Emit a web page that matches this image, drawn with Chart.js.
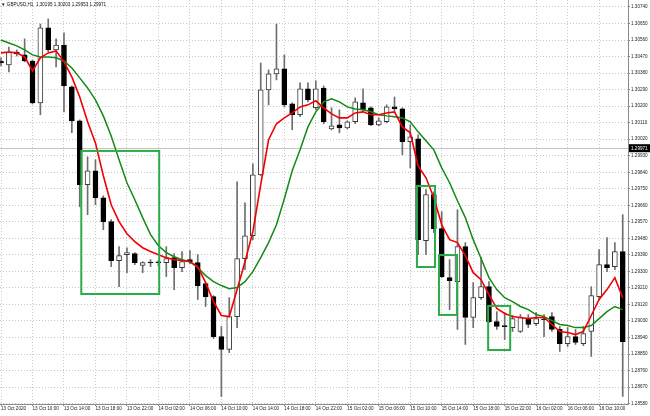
<!DOCTYPE html>
<html>
<head>
<meta charset="utf-8">
<script src="https://cdn.jsdelivr.net/npm/chart.js@4.4.1/dist/chart.umd.min.js"></script>
<style>
html, body { margin: 0; padding: 0; background: #fff; }
#wrap { width: 650px; height: 416px; }
</style>
</head>
<body>
<div id="wrap"><canvas id="chart" width="650" height="416"></canvas></div>
<script>
// ── Data (GBPUSD H1, one candle per hour) ─────────────
const opens = [
  1.30446, 1.30425, 1.30495, 1.30479, 1.30446, 1.30218, 1.30626, 1.30506, 1.30533, 1.30305,
  1.30120, 1.29772, 1.29848, 1.29701, 1.29571, 1.29359, 1.29391, 1.29397, 1.29332, 1.29348,
  1.29348, 1.29348, 1.29375, 1.29321, 1.29364, 1.29348, 1.29234, 1.29163, 1.28945, 1.28875,
  1.29054, 1.29370, 1.29494, 1.29826, 1.30289, 1.30376, 1.30403, 1.30212, 1.30153, 1.30294,
  1.30191, 1.30299, 1.30076, 1.30098, 1.30082, 1.30115, 1.30218, 1.30191, 1.30098, 1.30115,
  1.30196, 1.30185, 1.30006, 1.30022, 1.29467, 1.29718, 1.29533, 1.29266, 1.29244, 1.29435,
  1.29049, 1.29157, 1.29217, 1.29027, 1.29000, 1.28994, 1.28973, 1.29043, 1.29016, 1.29038,
  1.29054, 1.28984, 1.28907, 1.28945, 1.28907, 1.28973, 1.29163, 1.29337, 1.29326, 1.29408
];
const highs = [
  1.30463, 1.30522, 1.30506, 1.30566, 1.30452, 1.30647, 1.30675, 1.30566, 1.30599, 1.30310,
  1.30125, 1.29924, 1.29908, 1.29712, 1.29582, 1.29435, 1.29429, 1.29402, 1.29353, 1.29364,
  1.29359, 1.29435, 1.29397, 1.29408, 1.29413, 1.29391, 1.29239, 1.29168, 1.29000, 1.29157,
  1.29788, 1.29674, 1.29886, 1.30435, 1.30397, 1.30647, 1.30479, 1.30218, 1.30327, 1.30327,
  1.30338, 1.30310, 1.30191, 1.30180, 1.30120, 1.30245, 1.30294, 1.30196, 1.30136, 1.30207,
  1.30250, 1.30191, 1.30098, 1.30044, 1.29745, 1.29734, 1.29625, 1.29364, 1.29636, 1.29457,
  1.29239, 1.29375, 1.29244, 1.29081, 1.29076, 1.29060, 1.29065, 1.29065, 1.29076, 1.29065,
  1.29076, 1.29000, 1.28994, 1.28984, 1.29000, 1.29217, 1.29419, 1.29484, 1.29457, 1.29609
];
const lows = [
  1.30419, 1.30386, 1.30473, 1.30441, 1.30212, 1.30153, 1.30495, 1.30414, 1.30169, 1.30055,
  1.29652, 1.29609, 1.29663, 1.29527, 1.29326, 1.29217, 1.29293, 1.29337, 1.29293, 1.29326,
  1.29332, 1.29272, 1.29201, 1.29299, 1.29342, 1.29147, 1.29109, 1.28934, 1.28619, 1.28858,
  1.28994, 1.29310, 1.29473, 1.29821, 1.30207, 1.30343, 1.30196, 1.30071, 1.30142, 1.30223,
  1.30180, 1.30104, 1.30071, 1.30055, 1.30076, 1.30104, 1.30169, 1.30093, 1.30093, 1.30109,
  1.30174, 1.29935, 1.29864, 1.29391, 1.29391, 1.29511, 1.29266, 1.29092, 1.28984, 1.28902,
  1.28994, 1.29147, 1.29021, 1.28984, 1.28929, 1.28973, 1.28967, 1.28994, 1.29005, 1.28945,
  1.28973, 1.28864, 1.28891, 1.28902, 1.28896, 1.28837, 1.29147, 1.29299, 1.29310, 1.28619
];
const closes = [
  1.30435, 1.30495, 1.30484, 1.30446, 1.30218, 1.30626, 1.30506, 1.30533, 1.30310, 1.30120,
  1.29772, 1.29848, 1.29701, 1.29571, 1.29359, 1.29386, 1.29402, 1.29348, 1.29348, 1.29346,
  1.29347, 1.29370, 1.29321, 1.29353, 1.29353, 1.29223, 1.29163, 1.28945, 1.28875, 1.29054,
  1.29370, 1.29494, 1.29826, 1.30289, 1.30376, 1.30403, 1.30207, 1.30153, 1.30294, 1.30234,
  1.30294, 1.30115, 1.30093, 1.30082, 1.30115, 1.30223, 1.30180, 1.30098, 1.30120, 1.30196,
  1.30185, 1.30006, 1.30033, 1.29473, 1.29718, 1.29533, 1.29272, 1.29250, 1.29435, 1.29049,
  1.29157, 1.29217, 1.29027, 1.29000, 1.28999, 1.29043, 1.29049, 1.29011, 1.29043, 1.29037,
  1.28984, 1.28907, 1.28945, 1.28913, 1.28962, 1.29168, 1.29337, 1.29321, 1.29408, 1.28918
];
// fast MA (red) and slow MA (green)
const maFast = [
  1.30490, 1.30495, 1.30490, 1.30468, 1.30392, 1.30463, 1.30490, 1.30501, 1.30441, 1.30359,
  1.30250, 1.30115, 1.30000, 1.29821, 1.29663, 1.29571, 1.29505, 1.29462, 1.29429, 1.29408,
  1.29391, 1.29375, 1.29364, 1.29359, 1.29353, 1.29326, 1.29239, 1.29136, 1.29060, 1.29054,
  1.29201, 1.29353, 1.29516, 1.29772, 1.30017, 1.30104, 1.30136, 1.30163, 1.30196, 1.30207,
  1.30229, 1.30191, 1.30158, 1.30136, 1.30136, 1.30163, 1.30169, 1.30153, 1.30153, 1.30163,
  1.30169, 1.30087, 1.30055, 1.29875, 1.29810, 1.29701, 1.29554, 1.29473, 1.29457, 1.29386,
  1.29293, 1.29255, 1.29174, 1.29098, 1.29071, 1.29054, 1.29049, 1.29043, 1.29049, 1.29049,
  1.29011, 1.28973, 1.28967, 1.28956, 1.28973, 1.29060, 1.29147, 1.29201, 1.29266, 1.29157
];
const maSlow = [
  1.30560, 1.30544, 1.30528, 1.30506, 1.30479, 1.30468, 1.30468, 1.30463, 1.30446, 1.30408,
  1.30354, 1.30299, 1.30234, 1.30147, 1.30038, 1.29908, 1.29783, 1.29690, 1.29593, 1.29500,
  1.29440, 1.29402, 1.29380, 1.29364, 1.29353, 1.29321, 1.29277, 1.29244, 1.29223, 1.29206,
  1.29212, 1.29244, 1.29299, 1.29375, 1.29457, 1.29554, 1.29696, 1.29848, 1.29962, 1.30087,
  1.30169, 1.30223, 1.30240, 1.30223, 1.30196, 1.30185, 1.30180, 1.30169, 1.30153, 1.30147,
  1.30142, 1.30136, 1.30115, 1.30060, 1.30011, 1.29962, 1.29864, 1.29783, 1.29685, 1.29593,
  1.29473, 1.29370, 1.29266, 1.29201, 1.29157, 1.29136, 1.29109, 1.29092, 1.29065, 1.29054,
  1.29032, 1.29011, 1.29005, 1.28994, 1.28994, 1.29005, 1.29043, 1.29081, 1.29109, 1.29092
];

const timeTicks = [0, 4, 8, 12, 16, 20, 24, 28, 32, 36, 40, 44, 48, 52, 56, 60, 64, 68, 72, 76];
const timeLabels = [
  '13 Oct 2020', '13 Oct 10:00', '13 Oct 14:00', '13 Oct 18:00', '13 Oct 22:00',
  '14 Oct 02:00', '14 Oct 06:00', '14 Oct 10:00', '14 Oct 14:00', '14 Oct 18:00',
  '14 Oct 22:00', '15 Oct 02:00', '15 Oct 06:00', '15 Oct 10:00', '15 Oct 14:00',
  '15 Oct 18:00', '15 Oct 22:00', '16 Oct 02:00', '16 Oct 06:00', '16 Oct 10:00'
];
const priceTicks = [
  1.28580, 1.28670, 1.28760, 1.28850, 1.28940, 1.29030, 1.29120, 1.29210, 1.29300,
  1.29390, 1.29480, 1.29570, 1.29660, 1.29750, 1.29840, 1.29930, 1.30020, 1.30110,
  1.30200, 1.30290, 1.30380, 1.30470, 1.30560, 1.30650, 1.30740
];

// highlighted zones (candle index range, price range)
const zoneFrom   = [10.2, 52.85, 55.65, 61.9];
const zoneTo     = [20.1, 55.15, 57.95, 64.7];
const zoneTop    = [1.29956, 1.29765, 1.29389, 1.29112];
const zoneBottom = [1.29177, 1.29324, 1.29063, 1.28872];

const symbolText = '▼ GBPUSD,H1  1.30195 1.30203 1.29953 1.29971';
const bidPrice = 1.29971;

// ── Styles ─────────────────────────────────────────────
const FONT = { family: '"Liberation Sans", Arial, sans-serif', size: 4.6 };
const GRID = '#c8c8c8';
const AXIS = '#8a8a8a';

// ── Overlay plugin: bid line, zones, header, price tag ──
const overlay = {
    id: 'overlay',
    beforeDatasetsDraw(chart) {
        const { ctx, chartArea: a, scales: { y } } = chart;
        const py = Math.round(y.getPixelForValue(bidPrice)) + 0.5;
        ctx.save();
        ctx.strokeStyle = '#c4c4c4';
        ctx.lineWidth = 1;
        ctx.beginPath();
        ctx.moveTo(a.left, py);
        ctx.lineTo(a.right, py);
        ctx.stroke();
        ctx.restore();
    },
    afterDatasetsDraw(chart) {
        const { ctx, scales: { x, y } } = chart;
        ctx.save();
        ctx.strokeStyle = '#2aac48';
        ctx.lineWidth = 2;
        zoneFrom.forEach((f, k) => {
            const x0 = x.getPixelForValue(f), x1 = x.getPixelForValue(zoneTo[k]);
            const y0 = y.getPixelForValue(zoneTop[k]), y1 = y.getPixelForValue(zoneBottom[k]);
            ctx.strokeRect(x0, y0, x1 - x0, y1 - y0);
        });
        ctx.restore();
    },
    afterDraw(chart) {
        const { ctx, chartArea: a, scales: { y } } = chart;
        ctx.save();
        ctx.font = `${FONT.size}px ${FONT.family}`;
        ctx.textBaseline = 'middle';
        ctx.fillStyle = '#111';
        ctx.fillText(symbolText, 1, 4.5);

        const py = y.getPixelForValue(bidPrice);
        ctx.fillStyle = '#000';
        ctx.fillRect(a.right + 1, py - 4, 22, 8);
        ctx.fillStyle = '#fff';
        ctx.fillText(bidPrice.toFixed(5), a.right + 3, py + 0.5);
        ctx.restore();
    }
};

// ── Datasets ───────────────────────────────────────────
const wickData = lows.map((l, i) => ({ x: i, y: [l, highs[i]] }));
const bodyData = opens.map((o, i) => ({ x: i, y: [o, closes[i]] }));
const bodyFill = opens.map((o, i) => closes[i] >= o ? '#ffffff' : '#000000');
const bodyLine = opens.map((o, i) => closes[i] >= o ? '#3a3a3a' : '#000000');

new Chart(document.getElementById('chart'), {
    type: 'line',
    data: {
        datasets: [
            {
                type: 'line', label: 'MA fast',
                data: maFast.map((v, i) => ({ x: i, y: v })),
                borderColor: '#f20000', borderWidth: 1.6,
                pointRadius: 0, tension: 0, order: 1
            },
            {
                type: 'line', label: 'MA slow',
                data: maSlow.map((v, i) => ({ x: i, y: v })),
                borderColor: '#138a13', borderWidth: 1.5,
                pointRadius: 0, tension: 0, order: 2
            },
            {
                type: 'bar', label: 'body', data: bodyData,
                backgroundColor: bodyFill, borderColor: bodyLine,
                borderWidth: 1, borderSkipped: false,
                barThickness: 5, minBarLength: 1, grouped: false, order: 3
            },
            {
                type: 'bar', label: 'wick', data: wickData,
                backgroundColor: '#6f6f6f', borderWidth: 0,
                barThickness: 1, grouped: false, order: 4
            }
        ]
    },
    options: {
        responsive: false,
        devicePixelRatio: 1,
        animation: false,
        layout: { padding: 0 },
        plugins: { legend: { display: false }, tooltip: { enabled: false } },
        scales: {
            x: {
                type: 'linear', position: 'bottom',
                min: -0.13, max: 79.67, offset: false,
                afterBuildTicks: ax => { ax.ticks = timeTicks.map(v => ({ value: v })); },
                afterFit: ax => { ax.height = 12; ax.paddingLeft = 0; ax.paddingRight = 0; },
                ticks: {
                    autoSkip: false, maxRotation: 0, minRotation: 0,
                    align: 'start', padding: 0, color: '#222', font: FONT,
                    callback: (v, i) => timeLabels[i]
                },
                grid: { color: GRID, offset: false, tickLength: 2, tickColor: AXIS },
                border: { display: true, color: AXIS, dash: [1, 2] }
            },
            y: {
                type: 'linear', position: 'right',
                min: 1.28578, max: 1.30778,
                afterBuildTicks: ax => { ax.ticks = priceTicks.map(v => ({ value: v })); },
                afterFit: ax => { ax.width = 22; ax.paddingTop = 0; ax.paddingBottom = 0; },
                ticks: {
                    autoSkip: false, padding: 1, color: '#222', font: FONT,
                    callback: v => v.toFixed(5)
                },
                grid: { color: GRID, tickLength: 2, tickColor: AXIS },
                border: { display: true, color: AXIS, dash: [1, 2] }
            }
        }
    },
    plugins: [overlay]
});
</script>
</body>
</html>
